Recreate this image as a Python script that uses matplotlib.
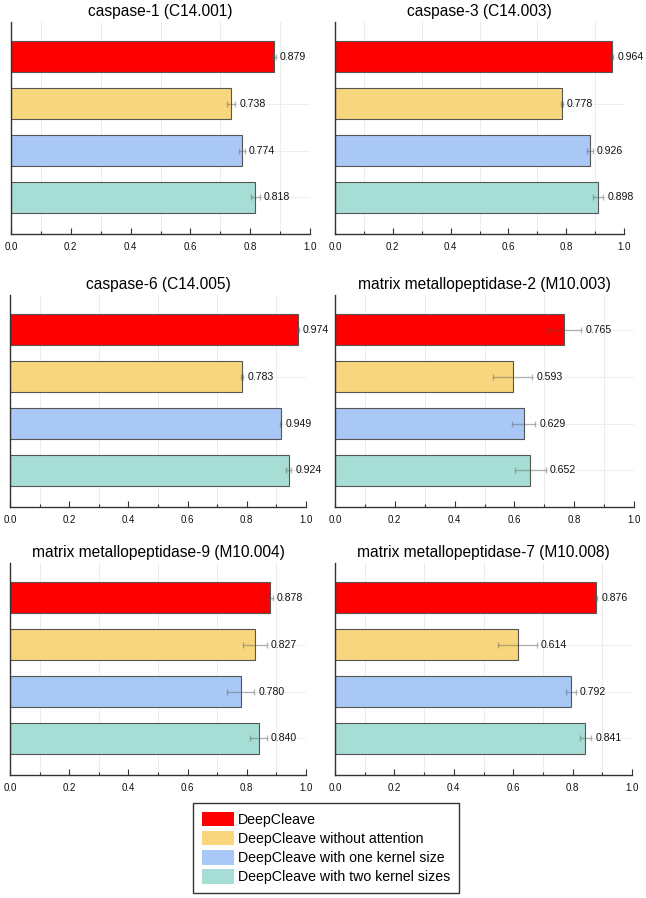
import matplotlib
matplotlib.use("Agg")
import matplotlib.pyplot as plt
from matplotlib.patches import Patch
import numpy as np

plt.rcParams['font.family'] = ['Liberation Sans', 'DejaVu Sans']

titles = ["caspase-1 (C14.001)", "caspase-3 (C14.003)",
          "caspase-6 (C14.005)", "matrix metallopeptidase-2 (M10.003)",
          "matrix metallopeptidase-9 (M10.004)", "matrix metallopeptidase-7 (M10.008)"]
series = ["DeepCleave", "DeepCleave without attention",
          "DeepCleave with one kernel size", "DeepCleave with two kernel sizes"]
colors = ["#ff0000", "#f7d67e", "#a9c8f6", "#a6ddd5"]

# bar lengths as drawn
bar_values = [
    [0.880, 0.737, 0.773, 0.817],
    [0.957, 0.785, 0.882, 0.911],
    [0.972, 0.785, 0.914, 0.941],
    [0.767, 0.594, 0.631, 0.653],
    [0.878, 0.827, 0.779, 0.840],
    [0.878, 0.615, 0.794, 0.843],
]
# printed value labels
value_labels = [
    ["0.879", "0.738", "0.774", "0.818"],
    ["0.964", "0.778", "0.926", "0.898"],
    ["0.974", "0.783", "0.949", "0.924"],
    ["0.765", "0.593", "0.629", "0.652"],
    ["0.878", "0.827", "0.780", "0.840"],
    ["0.876", "0.614", "0.792", "0.841"],
]
errors = [
    [0.006, 0.013, 0.009, 0.015],
    [0.006, 0.003, 0.010, 0.017],
    [0.003, 0.003, 0.003, 0.009],
    [0.056, 0.066, 0.038, 0.052],
    [0.010, 0.040, 0.046, 0.028],
    [0.005, 0.065, 0.017, 0.019],
]

W, H = 646, 898
fig = plt.figure(figsize=(W / 100, H / 100), dpi=100)

# axes boxes in pixels: (left, top, right, bottom)
boxes = [
    (11, 22, 310, 234), (335, 22, 624, 234),
    (10, 295, 306, 507), (335, 295, 634, 507),
    (10, 563, 306, 775), (335, 563, 632, 775),
]

ypos = np.arange(4)
for i, (l, t, r, b) in enumerate(boxes):
    ax = fig.add_axes([l / W, 1 - b / H, (r - l) / W, (b - t) / H])
    vals = bar_values[i]
    errs = errors[i]
    ax.set_xlim(0, 1.0)
    ax.set_ylim(3.78, -0.74)
    # grids
    for gx in np.arange(0.1, 1.0, 0.2):
        ax.axvline(gx, color="#ececec", lw=0.7, zorder=0)
    for yy in ypos:
        ax.axhline(yy, color="#eeeeee", lw=0.7, zorder=0)
    ax.barh(ypos, vals, height=0.66, color=colors, edgecolor="#555555",
            linewidth=0.8, zorder=2)
    ax.errorbar(vals, ypos, xerr=errs, fmt="none", ecolor="#555555",
                alpha=0.4, elinewidth=1.0, capsize=2.2, capthick=1.0, zorder=3)
    for v, e, y, lab in zip(vals, errs, ypos, value_labels[i]):
        ax.text(v + e + 0.014, y, lab, va="center", ha="left", fontsize=7.6,
                color="#111111", zorder=4)
    ax.set_title(titles[i], fontsize=11.2, pad=4)
    for s in ["top", "right"]:
        ax.spines[s].set_visible(False)
    ax.spines["left"].set_color("#333333")
    ax.spines["bottom"].set_color("#333333")
    ax.spines["left"].set_linewidth(1.0)
    ax.spines["bottom"].set_linewidth(1.0)
    ax.set_yticks([])
    ax.set_xticks(np.arange(0, 1.01, 0.2))
    ax.set_xticklabels([f"{v:.1f}" for v in np.arange(0, 1.01, 0.2)])
    ax.set_xticks(np.arange(0.1, 1.0, 0.2), minor=True)
    ax.tick_params(axis="x", which="major", direction="in", length=4, width=0.8,
                   labelsize=7, pad=6, colors="#333333", labelcolor="#111111")
    ax.tick_params(axis="x", which="minor", direction="in", length=2.5, width=0.8,
                   colors="#333333")

handles = [Patch(facecolor=c, edgecolor="none") for c in colors]
leg = fig.legend(handles, series, loc="upper left",
                 bbox_to_anchor=(193 / W, 1 - 803 / H), frameon=True,
                 fancybox=False, edgecolor="black", fontsize=10.2,
                 handlelength=2.3, handleheight=1.2, labelspacing=0.3,
                 handletextpad=0.3, borderpad=0.6, borderaxespad=0)
leg.get_frame().set_linewidth(1.0)

fig.savefig("out.png", dpi=100)
